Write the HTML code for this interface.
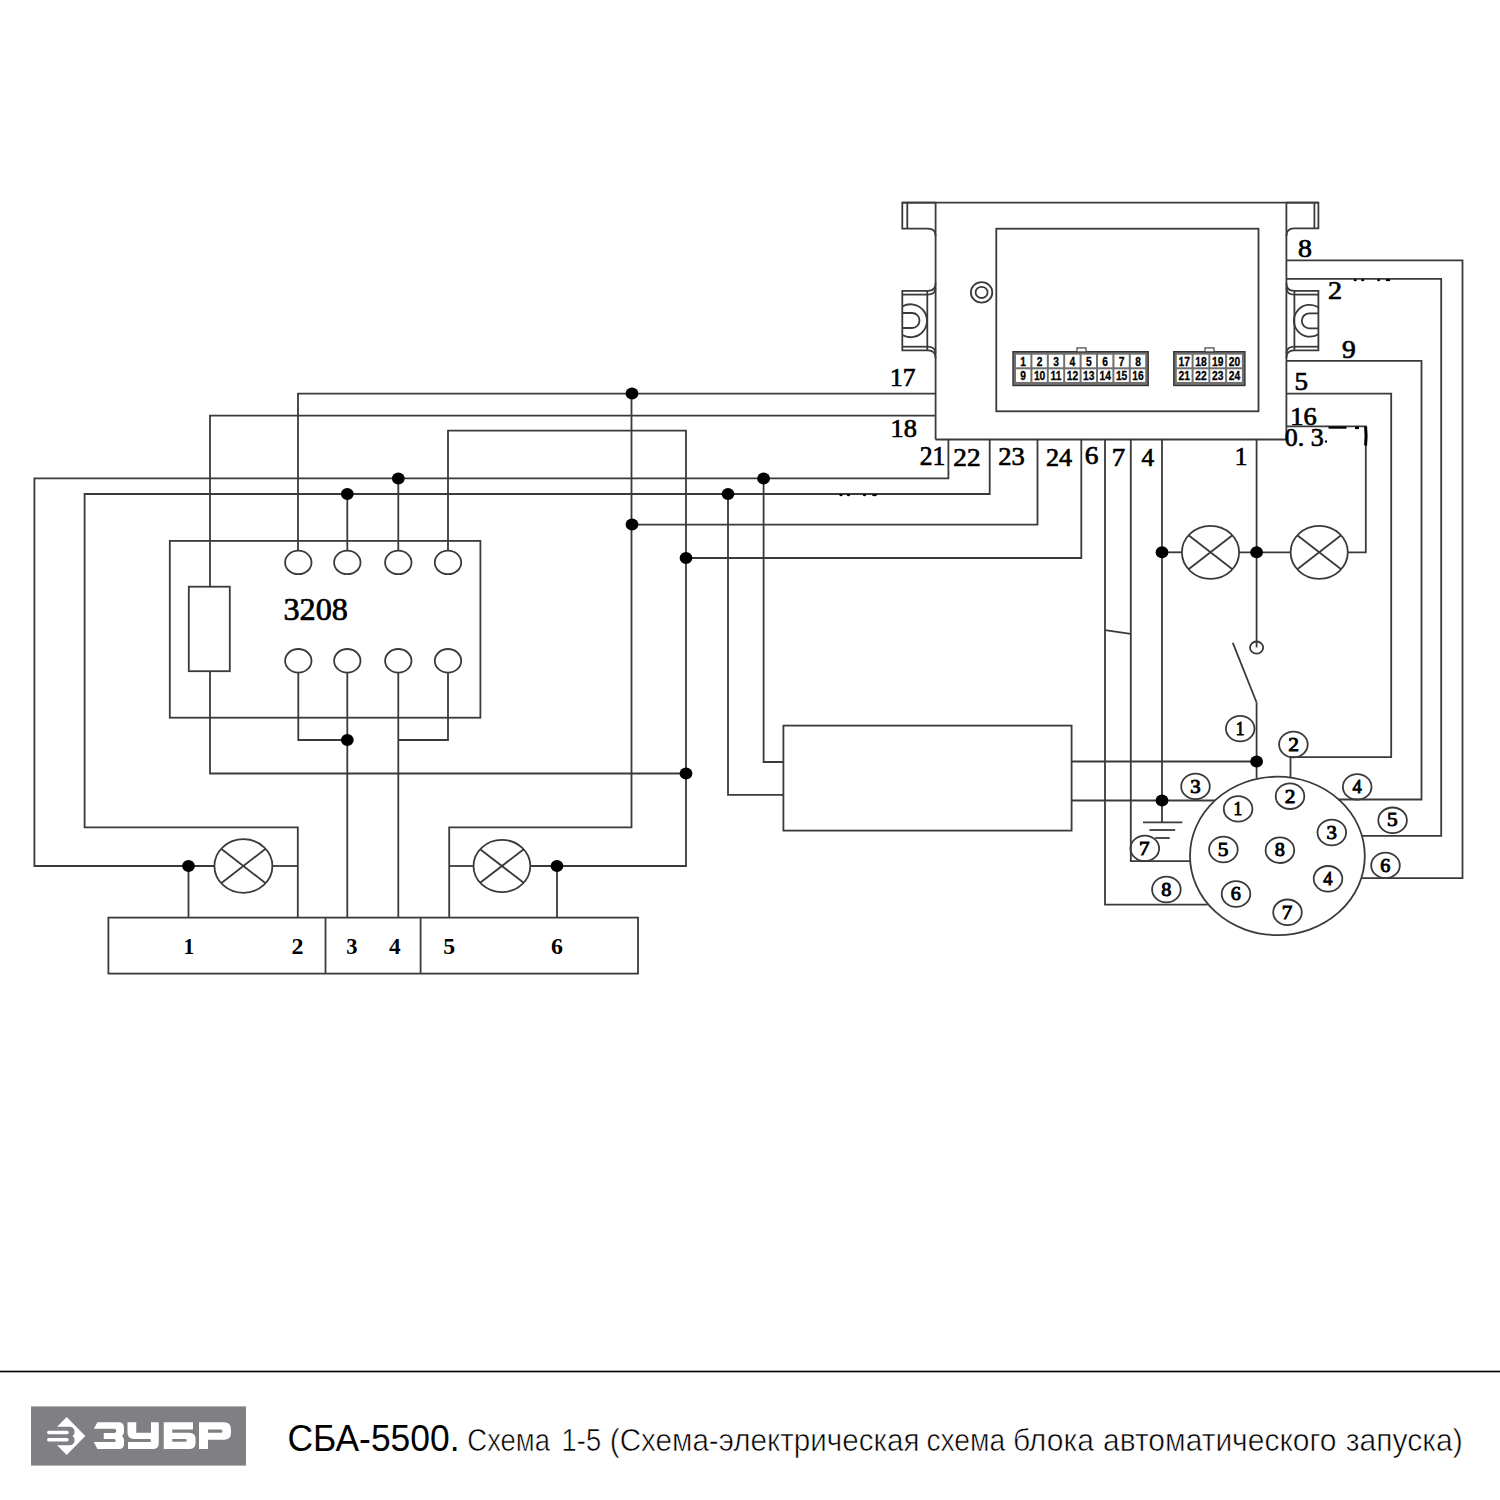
<!DOCTYPE html>
<html><head><meta charset="utf-8"><style>
html,body{margin:0;padding:0;background:#fff;}
body{width:1500px;height:1500px;overflow:hidden;position:relative;}
svg{position:absolute;left:0;top:0;}
.w line,.w polyline,.w rect,.w ellipse,.w path{fill:none;stroke:#3a3a3a;stroke-width:1.8;}
.w ellipse.d{fill:#000;stroke:none;}
text{font-family:"Liberation Serif",serif;fill:#000;}
.lb{font-size:24px;font-weight:bold;}
.big{font-size:30px;font-weight:bold;}
.sm{font-size:21px;font-weight:bold;}
.cl{font-size:21px;font-weight:bold;}
.cb{fill:#707070;stroke:#333;stroke-width:1.4;}
.ct{fill:#fff;stroke:#444;stroke-width:1.2;}
.cc{fill:#fff;stroke:none;}
.cn{font-family:"Liberation Sans",sans-serif;font-size:11px;font-weight:bold;}
.title{position:absolute;left:289px;top:1410px;font-family:"Liberation Sans",sans-serif;white-space:nowrap;color:#000;}
</style></head><body>
<svg width="1500" height="1500" viewBox="0 0 1500 1500">
<g class="w">
<line x1="902.3" y1="202.7" x2="1318.4" y2="202.7"/>
<polyline points="935.6,202.7 902.3,202.7 902.3,228.7 928,228.7"/>
<line x1="907.3" y1="202.7" x2="907.3" y2="228.7"/>
<path d="M928,228.7 Q935.6,228.7 935.6,236"/>
<polyline points="1286.4,202.7 1318.4,202.7 1318.4,228.4 1294,228.4"/>
<line x1="1314.4" y1="202.7" x2="1314.4" y2="228.4"/>
<path d="M1294,228.4 Q1286.4,228.4 1286.4,236"/>
<line x1="935.6" y1="202.7" x2="935.6" y2="439.5"/>
<line x1="1286.4" y1="202.7" x2="1286.4" y2="439.5"/>
<line x1="935.6" y1="439.5" x2="1286.4" y2="439.5"/>
<polyline points="928,290.9 902.3,290.9 902.3,350.4 928,350.4"/>
<line x1="902.3" y1="294.6" x2="927.3" y2="294.6"/>
<line x1="902.3" y1="346.7" x2="927.3" y2="346.7"/>
<line x1="927.3" y1="290.9" x2="927.3" y2="350.4"/>
<path d="M928,290.9 Q935.6,290.9 935.6,283.3"/>
<path d="M928,350.4 Q935.6,350.4 935.6,358"/>
<path d="M927.3,294.6 Q935,294.6 935.6,288.5" stroke-width="1.4"/>
<path d="M927.3,346.7 Q935,346.7 935.6,352.8" stroke-width="1.4"/>
<path d="M902.3,306.5 A16.46,16.46 0 1 1 902.3,335"/>
<path d="M902.3,313 H912 A7.5,7.5 0 0 1 912,328 H902.3"/>
<polyline points="1294,290.9 1318.4,290.9 1318.4,350.4 1294,350.4"/>
<line x1="1294.4" y1="294.6" x2="1318.4" y2="294.6"/>
<line x1="1294.4" y1="346.7" x2="1318.4" y2="346.7"/>
<line x1="1294.4" y1="290.9" x2="1294.4" y2="350.4"/>
<path d="M1294,290.9 Q1286.4,290.9 1286.4,283.3"/>
<path d="M1294,350.4 Q1286.4,350.4 1286.4,358"/>
<path d="M1294.4,294.6 Q1287,294.6 1286.4,288.5" stroke-width="1.4"/>
<path d="M1294.4,346.7 Q1287,346.7 1286.4,352.8" stroke-width="1.4"/>
<path d="M1318.4,307.3 A15.94,15.94 0 1 0 1318.4,334.2"/>
<path d="M1318.4,313.3 H1309.3 A7.5,7.5 0 0 0 1309.3,328.3 H1318.4"/>
<rect x="996.3" y="228.7" width="262.2" height="182.6"/>
<ellipse cx="981.6" cy="292.4" rx="10.7" ry="10.2"/>
<ellipse cx="981.6" cy="292.4" rx="6" ry="5.6"/>
<polyline points="298,550.6 298,393.6 935.6,393.6"/>
<polyline points="210,586.7 210,415.6 935.6,415.6"/>
<polyline points="948.4,439.5 948.4,478.4 34.4,478.4 34.4,866 214.8,866"/>
<polyline points="989.7,439.5 989.7,494 84.6,494 84.6,827.3 297.8,827.3 297.8,917.6"/>
<polyline points="1037.5,439.5 1037.5,524.6 631.5,524.6"/>
<polyline points="1081.3,439.5 1081.3,558 686,558"/>
<polyline points="1105,439.5 1105,904.7 1207.7,904.7"/>
<polyline points="1130.8,439.5 1130.8,861.1 1190,861.1"/>
<line x1="1105" y1="630.1" x2="1130.7" y2="633.8"/>
<polyline points="1162,439.5 1162,822.3"/>
<polyline points="1256.6,439.5 1256.6,647.4"/>
<polyline points="1286.4,260.4 1462.5,260.4 1462.5,878.1 1361,878.1"/>
<polyline points="1286.4,278.8 1441.2,278.8 1441.2,835.8 1362.2,835.8"/>
<polyline points="1286.4,360.8 1421.5,360.8 1421.5,799.5 1338,799.5"/>
<polyline points="1286.4,393.7 1391.2,393.7 1391.2,757.2 1290.5,757.2 1290.5,777.5"/>
<polyline points="1286.4,426.4 1365.8,426.4 1365.8,552.3 1347.8,552.3"/>
<rect x="169.8" y="540.9" width="310.6" height="176.8"/>
<rect x="188.8" y="586.7" width="41.0" height="84.5"/>
<polyline points="210,671.2 210,773.5 686,773.5"/>
<ellipse cx="298.3" cy="562.4" rx="13.2" ry="11.8"/>
<ellipse cx="298.3" cy="660.8" rx="13.2" ry="11.8"/>
<ellipse cx="347.3" cy="562.4" rx="13.2" ry="11.8"/>
<ellipse cx="347.3" cy="660.8" rx="13.2" ry="11.8"/>
<ellipse cx="398.3" cy="562.4" rx="13.2" ry="11.8"/>
<ellipse cx="398.3" cy="660.8" rx="13.2" ry="11.8"/>
<ellipse cx="448" cy="562.4" rx="13.2" ry="11.8"/>
<ellipse cx="448" cy="660.8" rx="13.2" ry="11.8"/>
<line x1="347.3" y1="494" x2="347.3" y2="550.6"/>
<line x1="398.3" y1="478.4" x2="398.3" y2="550.6"/>
<polyline points="448,550.6 448,430.7 686,430.7 686,866 530.3,866"/>
<polyline points="631.5,393.6 631.5,827.4 449.2,827.4 449.2,917.6"/>
<polyline points="298.3,672.6 298.3,740 347.3,740"/>
<line x1="347.3" y1="672.6" x2="347.3" y2="917.6"/>
<line x1="398.3" y1="672.6" x2="398.3" y2="917.6"/>
<polyline points="448,672.6 448,740 398.3,740"/>
<line x1="188.5" y1="866" x2="188.5" y2="917.6"/>
<line x1="272.4" y1="866" x2="297.8" y2="866"/>
<ellipse cx="243.4" cy="866" rx="29" ry="26.8"/>
<line x1="221.18471114954963" y1="848.7732920604008" x2="265.6152888504504" y2="883.2267079395992"/>
<line x1="221.18471114954963" y1="883.2267079395992" x2="265.6152888504504" y2="848.7732920604008"/>
<line x1="449.2" y1="866" x2="473.5" y2="866"/>
<ellipse cx="501.9" cy="866" rx="28.4" ry="26.1"/>
<line x1="480.144337815421" y1="849.2232433871814" x2="523.655662184579" y2="882.7767566128186"/>
<line x1="480.144337815421" y1="882.7767566128186" x2="523.655662184579" y2="849.2232433871814"/>
<line x1="557" y1="866" x2="557" y2="917.6"/>
<polyline points="763.6,478.4 763.6,762 783.4,762"/>
<polyline points="728,494 728,794.8 783.4,794.8"/>
<rect x="783.4" y="725.6" width="288.2" height="105.0"/>
<line x1="1071.6" y1="761.5" x2="1256.6" y2="761.5"/>
<line x1="1071.6" y1="800.5" x2="1215" y2="800.5"/>
<rect x="108.4" y="917.6" width="529.6" height="56.0"/>
<line x1="325.5" y1="917.6" x2="325.5" y2="973.6"/>
<line x1="420.6" y1="917.6" x2="420.6" y2="973.6"/>
<ellipse cx="1210.5" cy="552.3" rx="28.6" ry="26.5"/>
<line x1="1188.5911289267972" y1="535.2661283433067" x2="1232.4088710732028" y2="569.3338716566932"/>
<line x1="1188.5911289267972" y1="569.3338716566932" x2="1232.4088710732028" y2="535.2661283433067"/>
<ellipse cx="1319.2" cy="552.3" rx="28.6" ry="26.5"/>
<line x1="1297.2911289267972" y1="535.2661283433067" x2="1341.1088710732029" y2="569.3338716566932"/>
<line x1="1297.2911289267972" y1="569.3338716566932" x2="1341.1088710732029" y2="535.2661283433067"/>
<line x1="1162" y1="552.3" x2="1181.9" y2="552.3"/>
<line x1="1239.1" y1="552.3" x2="1290.6" y2="552.3"/>
<ellipse cx="1256.6" cy="647.6" rx="6.6" ry="6.1"/>
<line x1="1232.8" y1="642.8" x2="1256.6" y2="702.5"/>
<line x1="1256.6" y1="702.5" x2="1256.6" y2="778"/>
<line x1="1143" y1="822.3" x2="1182.3" y2="822.3"/>
<line x1="1149.4" y1="830" x2="1175.2" y2="830"/>
<line x1="1155.2" y1="838" x2="1169.7" y2="838"/>
<ellipse cx="1277.4" cy="855.9" rx="87.4" ry="79.2"/>
<ellipse cx="1240.2" cy="728.6" rx="14.3" ry="12.8" stroke-width="1.5"/>
<ellipse cx="1293.4" cy="744.5" rx="14.3" ry="12.8" stroke-width="1.5"/>
<ellipse cx="1195.5" cy="786.4" rx="14.3" ry="12.8" stroke-width="1.5"/>
<ellipse cx="1357.2" cy="786.9" rx="14.3" ry="12.8" stroke-width="1.5"/>
<ellipse cx="1392.6" cy="820.3" rx="14.3" ry="12.8" stroke-width="1.5"/>
<ellipse cx="1385.5" cy="865.4" rx="14.3" ry="12.8" stroke-width="1.5"/>
<ellipse cx="1144.8" cy="848.4" rx="14.3" ry="12.8" stroke-width="1.5"/>
<ellipse cx="1166.4" cy="889.5" rx="14.3" ry="12.8" stroke-width="1.5"/>
<ellipse cx="1238.1" cy="808.9" rx="14.3" ry="12.8" stroke-width="1.5"/>
<ellipse cx="1290" cy="796.2" rx="14.3" ry="12.8" stroke-width="1.5"/>
<ellipse cx="1331.8" cy="832.5" rx="14.3" ry="12.8" stroke-width="1.5"/>
<ellipse cx="1223.4" cy="849.5" rx="14.3" ry="12.8" stroke-width="1.5"/>
<ellipse cx="1279.9" cy="850.2" rx="14.3" ry="12.8" stroke-width="1.5"/>
<ellipse cx="1328" cy="878.8" rx="14.3" ry="12.8" stroke-width="1.5"/>
<ellipse cx="1236" cy="894" rx="14.3" ry="12.8" stroke-width="1.5"/>
<ellipse cx="1287.5" cy="912.3" rx="14.3" ry="12.8" stroke-width="1.5"/>
<ellipse class="d" cx="632" cy="393.6" rx="6.4" ry="6"/>
<ellipse class="d" cx="398.3" cy="478.4" rx="6.4" ry="6"/>
<ellipse class="d" cx="763.6" cy="478.4" rx="6.4" ry="6"/>
<ellipse class="d" cx="347.3" cy="494" rx="6.4" ry="6"/>
<ellipse class="d" cx="728" cy="494" rx="6.4" ry="6"/>
<ellipse class="d" cx="632" cy="524.6" rx="6.4" ry="6"/>
<ellipse class="d" cx="686" cy="558" rx="6.4" ry="6"/>
<ellipse class="d" cx="686" cy="773.5" rx="6.4" ry="6"/>
<ellipse class="d" cx="347.3" cy="740" rx="6.4" ry="6"/>
<ellipse class="d" cx="188.5" cy="866" rx="6.4" ry="6"/>
<ellipse class="d" cx="557" cy="866" rx="6.4" ry="6"/>
<ellipse class="d" cx="1162" cy="552.3" rx="6.4" ry="6"/>
<ellipse class="d" cx="1256.6" cy="552.3" rx="6.4" ry="6"/>
<ellipse class="d" cx="1256.6" cy="761.5" rx="6.4" ry="6"/>
<ellipse class="d" cx="1162" cy="800.5" rx="6.4" ry="6"/>
</g>
<rect class="cb" x="1013" y="351.7" width="135.20000000000005" height="33.80000000000001"/>
<rect class="ct" x="1077" y="347.9" width="9" height="4"/>
<rect class="cc" x="1016.0" y="354.7" width="14.4" height="12.6"/>
<text class="cn" transform="translate(1023.2,365.7) scale(0.82,1)" text-anchor="middle" style="font-family:&quot;Liberation Sans&quot;;font-size:12.5px;font-weight:bold" stroke="#000" stroke-width="0.3">1</text>
<rect class="cc" x="1032.4" y="354.7" width="14.4" height="12.6"/>
<text class="cn" transform="translate(1039.6,365.7) scale(0.82,1)" text-anchor="middle" style="font-family:&quot;Liberation Sans&quot;;font-size:12.5px;font-weight:bold" stroke="#000" stroke-width="0.3">2</text>
<rect class="cc" x="1048.8" y="354.7" width="14.4" height="12.6"/>
<text class="cn" transform="translate(1056.0,365.7) scale(0.82,1)" text-anchor="middle" style="font-family:&quot;Liberation Sans&quot;;font-size:12.5px;font-weight:bold" stroke="#000" stroke-width="0.3">3</text>
<rect class="cc" x="1065.2" y="354.7" width="14.4" height="12.6"/>
<text class="cn" transform="translate(1072.4,365.7) scale(0.82,1)" text-anchor="middle" style="font-family:&quot;Liberation Sans&quot;;font-size:12.5px;font-weight:bold" stroke="#000" stroke-width="0.3">4</text>
<rect class="cc" x="1081.6" y="354.7" width="14.4" height="12.6"/>
<text class="cn" transform="translate(1088.8,365.7) scale(0.82,1)" text-anchor="middle" style="font-family:&quot;Liberation Sans&quot;;font-size:12.5px;font-weight:bold" stroke="#000" stroke-width="0.3">5</text>
<rect class="cc" x="1098.0" y="354.7" width="14.4" height="12.6"/>
<text class="cn" transform="translate(1105.2,365.7) scale(0.82,1)" text-anchor="middle" style="font-family:&quot;Liberation Sans&quot;;font-size:12.5px;font-weight:bold" stroke="#000" stroke-width="0.3">6</text>
<rect class="cc" x="1114.4" y="354.7" width="14.4" height="12.6"/>
<text class="cn" transform="translate(1121.6,365.7) scale(0.82,1)" text-anchor="middle" style="font-family:&quot;Liberation Sans&quot;;font-size:12.5px;font-weight:bold" stroke="#000" stroke-width="0.3">7</text>
<rect class="cc" x="1130.8" y="354.7" width="14.4" height="12.6"/>
<text class="cn" transform="translate(1138.0,365.7) scale(0.82,1)" text-anchor="middle" style="font-family:&quot;Liberation Sans&quot;;font-size:12.5px;font-weight:bold" stroke="#000" stroke-width="0.3">8</text>
<rect class="cc" x="1016.0" y="369.3" width="14.4" height="12.6"/>
<text class="cn" transform="translate(1023.2,380.3) scale(0.82,1)" text-anchor="middle" style="font-family:&quot;Liberation Sans&quot;;font-size:12.5px;font-weight:bold" stroke="#000" stroke-width="0.3">9</text>
<rect class="cc" x="1032.4" y="369.3" width="14.4" height="12.6"/>
<text class="cn" transform="translate(1039.6,380.3) scale(0.82,1)" text-anchor="middle" style="font-family:&quot;Liberation Sans&quot;;font-size:12.5px;font-weight:bold" stroke="#000" stroke-width="0.3">10</text>
<rect class="cc" x="1048.8" y="369.3" width="14.4" height="12.6"/>
<text class="cn" transform="translate(1056.0,380.3) scale(0.82,1)" text-anchor="middle" style="font-family:&quot;Liberation Sans&quot;;font-size:12.5px;font-weight:bold" stroke="#000" stroke-width="0.3">11</text>
<rect class="cc" x="1065.2" y="369.3" width="14.4" height="12.6"/>
<text class="cn" transform="translate(1072.4,380.3) scale(0.82,1)" text-anchor="middle" style="font-family:&quot;Liberation Sans&quot;;font-size:12.5px;font-weight:bold" stroke="#000" stroke-width="0.3">12</text>
<rect class="cc" x="1081.6" y="369.3" width="14.4" height="12.6"/>
<text class="cn" transform="translate(1088.8,380.3) scale(0.82,1)" text-anchor="middle" style="font-family:&quot;Liberation Sans&quot;;font-size:12.5px;font-weight:bold" stroke="#000" stroke-width="0.3">13</text>
<rect class="cc" x="1098.0" y="369.3" width="14.4" height="12.6"/>
<text class="cn" transform="translate(1105.2,380.3) scale(0.82,1)" text-anchor="middle" style="font-family:&quot;Liberation Sans&quot;;font-size:12.5px;font-weight:bold" stroke="#000" stroke-width="0.3">14</text>
<rect class="cc" x="1114.4" y="369.3" width="14.4" height="12.6"/>
<text class="cn" transform="translate(1121.6,380.3) scale(0.82,1)" text-anchor="middle" style="font-family:&quot;Liberation Sans&quot;;font-size:12.5px;font-weight:bold" stroke="#000" stroke-width="0.3">15</text>
<rect class="cc" x="1130.8" y="369.3" width="14.4" height="12.6"/>
<text class="cn" transform="translate(1138.0,380.3) scale(0.82,1)" text-anchor="middle" style="font-family:&quot;Liberation Sans&quot;;font-size:12.5px;font-weight:bold" stroke="#000" stroke-width="0.3">16</text>
<rect class="cb" x="1173.8" y="351.7" width="71.10000000000014" height="33.80000000000001"/>
<rect class="ct" x="1205" y="347.9" width="9" height="4"/>
<rect class="cc" x="1176.8" y="354.7" width="14.8" height="12.6"/>
<text class="cn" transform="translate(1184.2,365.7) scale(0.82,1)" text-anchor="middle" style="font-family:&quot;Liberation Sans&quot;;font-size:12.5px;font-weight:bold" stroke="#000" stroke-width="0.3">17</text>
<rect class="cc" x="1193.6" y="354.7" width="14.8" height="12.6"/>
<text class="cn" transform="translate(1201.0,365.7) scale(0.82,1)" text-anchor="middle" style="font-family:&quot;Liberation Sans&quot;;font-size:12.5px;font-weight:bold" stroke="#000" stroke-width="0.3">18</text>
<rect class="cc" x="1210.3" y="354.7" width="14.8" height="12.6"/>
<text class="cn" transform="translate(1217.7,365.7) scale(0.82,1)" text-anchor="middle" style="font-family:&quot;Liberation Sans&quot;;font-size:12.5px;font-weight:bold" stroke="#000" stroke-width="0.3">19</text>
<rect class="cc" x="1227.1" y="354.7" width="14.8" height="12.6"/>
<text class="cn" transform="translate(1234.5,365.7) scale(0.82,1)" text-anchor="middle" style="font-family:&quot;Liberation Sans&quot;;font-size:12.5px;font-weight:bold" stroke="#000" stroke-width="0.3">20</text>
<rect class="cc" x="1176.8" y="369.3" width="14.8" height="12.6"/>
<text class="cn" transform="translate(1184.2,380.3) scale(0.82,1)" text-anchor="middle" style="font-family:&quot;Liberation Sans&quot;;font-size:12.5px;font-weight:bold" stroke="#000" stroke-width="0.3">21</text>
<rect class="cc" x="1193.6" y="369.3" width="14.8" height="12.6"/>
<text class="cn" transform="translate(1201.0,380.3) scale(0.82,1)" text-anchor="middle" style="font-family:&quot;Liberation Sans&quot;;font-size:12.5px;font-weight:bold" stroke="#000" stroke-width="0.3">22</text>
<rect class="cc" x="1210.3" y="369.3" width="14.8" height="12.6"/>
<text class="cn" transform="translate(1217.7,380.3) scale(0.82,1)" text-anchor="middle" style="font-family:&quot;Liberation Sans&quot;;font-size:12.5px;font-weight:bold" stroke="#000" stroke-width="0.3">23</text>
<rect class="cc" x="1227.1" y="369.3" width="14.8" height="12.6"/>
<text class="cn" transform="translate(1234.5,380.3) scale(0.82,1)" text-anchor="middle" style="font-family:&quot;Liberation Sans&quot;;font-size:12.5px;font-weight:bold" stroke="#000" stroke-width="0.3">24</text>
<ellipse cx="1355.2" cy="280.2" rx="1.6" ry="1.1" fill="#000"/>
<ellipse cx="1362.7" cy="280.2" rx="1.6" ry="1.1" fill="#000"/>
<ellipse cx="1378.6" cy="280.2" rx="1.5" ry="1.1" fill="#000"/>
<ellipse cx="1388" cy="280.2" rx="2.4" ry="1.1" fill="#000"/>
<ellipse cx="841" cy="495.2" rx="1.6" ry="1.1" fill="#000"/>
<ellipse cx="848.5" cy="495.2" rx="1.6" ry="1.1" fill="#000"/>
<ellipse cx="864.5" cy="495.2" rx="1.6" ry="1.1" fill="#000"/>
<ellipse cx="874.5" cy="495.2" rx="2.4" ry="1.1" fill="#000"/>
<path d="M1328.5,427.6 H1346.5" stroke="#000" stroke-width="2.2" fill="none"/>
<path d="M1355,427.8 H1359" stroke="#000" stroke-width="2.6" fill="none"/>
<path d="M1365.6,426.5 Q1366.6,436 1365.6,445.5" stroke="#000" stroke-width="3" fill="none"/>
<ellipse cx="1326" cy="441.5" rx="1.1" ry="1.2" fill="#000"/>
<text transform="translate(1235.63,734.95) scale(0.901,1)" style="font-family:'Liberation Serif';font-size:19.24px;font-weight:normal" stroke="#000" stroke-width="0.9">1</text>
<text transform="translate(1288.16,750.85) scale(1.118,1)" style="font-family:'Liberation Serif';font-size:19.18px;font-weight:normal" stroke="#000" stroke-width="0.9">2</text>
<text transform="translate(1190.20,792.57) scale(1.101,1)" style="font-family:'Liberation Serif';font-size:18.90px;font-weight:normal" stroke="#000" stroke-width="0.9">3</text>
<text transform="translate(1352.54,793.25) scale(0.959,1)" style="font-family:'Liberation Serif';font-size:19.29px;font-weight:normal" stroke="#000" stroke-width="0.9">4</text>
<text transform="translate(1387.06,826.46) scale(1.117,1)" style="font-family:'Liberation Serif';font-size:19.11px;font-weight:normal" stroke="#000" stroke-width="0.9">5</text>
<text transform="translate(1380.34,871.57) scale(1.065,1)" style="font-family:'Liberation Serif';font-size:18.90px;font-weight:normal" stroke="#000" stroke-width="0.9">6</text>
<text transform="translate(1139.10,854.75) scale(1.094,1)" style="font-family:'Liberation Serif';font-size:19.40px;font-weight:normal" stroke="#000" stroke-width="0.9">7</text>
<text transform="translate(1161.33,895.67) scale(1.078,1)" style="font-family:'Liberation Serif';font-size:18.82px;font-weight:normal" stroke="#000" stroke-width="0.9">8</text>
<text transform="translate(1233.53,815.25) scale(0.901,1)" style="font-family:'Liberation Serif';font-size:19.24px;font-weight:normal" stroke="#000" stroke-width="0.9">1</text>
<text transform="translate(1284.76,802.55) scale(1.118,1)" style="font-family:'Liberation Serif';font-size:19.18px;font-weight:normal" stroke="#000" stroke-width="0.9">2</text>
<text transform="translate(1326.50,838.67) scale(1.101,1)" style="font-family:'Liberation Serif';font-size:18.90px;font-weight:normal" stroke="#000" stroke-width="0.9">3</text>
<text transform="translate(1217.86,855.66) scale(1.117,1)" style="font-family:'Liberation Serif';font-size:19.11px;font-weight:normal" stroke="#000" stroke-width="0.9">5</text>
<text transform="translate(1274.83,856.37) scale(1.078,1)" style="font-family:'Liberation Serif';font-size:18.82px;font-weight:normal" stroke="#000" stroke-width="0.9">8</text>
<text transform="translate(1323.34,885.15) scale(0.959,1)" style="font-family:'Liberation Serif';font-size:19.29px;font-weight:normal" stroke="#000" stroke-width="0.9">4</text>
<text transform="translate(1230.84,900.17) scale(1.065,1)" style="font-family:'Liberation Serif';font-size:18.90px;font-weight:normal" stroke="#000" stroke-width="0.9">6</text>
<text transform="translate(1281.80,918.65) scale(1.094,1)" style="font-family:'Liberation Serif';font-size:19.40px;font-weight:normal" stroke="#000" stroke-width="0.9">7</text>
<text transform="translate(889.91,386.05) scale(0.978,1)" style="font-family:'Liberation Serif';font-size:26.05px;font-weight:normal" stroke="#000" stroke-width="0.7">17</text>
<text transform="translate(890.43,437.41) scale(1.055,1)" style="font-family:'Liberation Serif';font-size:25.04px;font-weight:normal" stroke="#000" stroke-width="0.7">18</text>
<text transform="translate(919.83,465.45) scale(0.967,1)" style="font-family:'Liberation Serif';font-size:26.43px;font-weight:normal" stroke="#000" stroke-width="0.7">21</text>
<text transform="translate(953.35,465.85) scale(1.078,1)" style="font-family:'Liberation Serif';font-size:25.22px;font-weight:normal" stroke="#000" stroke-width="0.7">22</text>
<text transform="translate(998.19,464.60) scale(1.054,1)" style="font-family:'Liberation Serif';font-size:25.15px;font-weight:normal" stroke="#000" stroke-width="0.7">23</text>
<text transform="translate(1046.01,466.05) scale(1.021,1)" style="font-family:'Liberation Serif';font-size:25.52px;font-weight:normal" stroke="#000" stroke-width="0.7">24</text>
<text transform="translate(1084.77,464.21) scale(1.115,1)" style="font-family:'Liberation Serif';font-size:24.56px;font-weight:normal" stroke="#000" stroke-width="0.7">6</text>
<text transform="translate(1111.78,465.65) scale(1.094,1)" style="font-family:'Liberation Serif';font-size:24.59px;font-weight:normal" stroke="#000" stroke-width="0.7">7</text>
<text transform="translate(1141.46,466.45) scale(1.004,1)" style="font-family:'Liberation Serif';font-size:25.07px;font-weight:normal" stroke="#000" stroke-width="0.7">4</text>
<text transform="translate(1234.63,464.55) scale(0.988,1)" style="font-family:'Liberation Serif';font-size:25.60px;font-weight:normal" stroke="#000" stroke-width="0.7">1</text>
<text transform="translate(1297.89,256.81) scale(1.132,1)" style="font-family:'Liberation Serif';font-size:24.60px;font-weight:normal" stroke="#000" stroke-width="0.7">8</text>
<text transform="translate(1328.11,299.15) scale(1.124,1)" style="font-family:'Liberation Serif';font-size:25.07px;font-weight:normal" stroke="#000" stroke-width="0.7">2</text>
<text transform="translate(1342.07,357.60) scale(1.090,1)" style="font-family:'Liberation Serif';font-size:25.15px;font-weight:normal" stroke="#000" stroke-width="0.7">9</text>
<text transform="translate(1294.58,390.01) scale(1.117,1)" style="font-family:'Liberation Serif';font-size:24.23px;font-weight:normal" stroke="#000" stroke-width="0.7">5</text>
<text transform="translate(1290.23,424.80) scale(1.050,1)" style="font-family:'Liberation Serif';font-size:25.15px;font-weight:normal" stroke="#000" stroke-width="0.7">16</text>
<text transform="translate(1284.76,445.90) scale(1.042,1)" style="font-family:'Liberation Serif';font-size:24.88px;font-weight:normal" stroke="#000" stroke-width="0.7">0. 3</text>
<text transform="translate(283.41,619.95) scale(1.046,1)" style="font-family:'Liberation Serif';font-size:30.82px;font-weight:normal" stroke="#000" stroke-width="0.7">3208</text>
<text transform="translate(183.58,954.20) scale(0.951,1)" style="font-family:'Liberation Serif';font-size:22.57px;font-weight:bold">1</text>
<text transform="translate(291.49,954.20) scale(1.071,1)" style="font-family:'Liberation Serif';font-size:22.50px;font-weight:bold">2</text>
<text transform="translate(346.16,953.98) scale(1.011,1)" style="font-family:'Liberation Serif';font-size:22.18px;font-weight:bold">3</text>
<text transform="translate(389.08,954.20) scale(1.029,1)" style="font-family:'Liberation Serif';font-size:22.64px;font-weight:bold">4</text>
<text transform="translate(443.14,953.98) scale(1.064,1)" style="font-family:'Liberation Serif';font-size:22.42px;font-weight:bold">5</text>
<text transform="translate(550.99,953.98) scale(1.074,1)" style="font-family:'Liberation Serif';font-size:22.18px;font-weight:bold">6</text>
<rect x="0" y="1370.7" width="1500" height="1.6" fill="#000"/>

<rect x="31" y="1406.4" width="215" height="59.2" fill="#807f84"/>
<g fill="#fff">
<polygon points="66.7,1417 85.3,1436 66.7,1455 48,1436"/>
</g>
<path fill="#807f84" d="M40,1426.7 H69.5 A4.8,4.65 0 0 1 74.5,1431.35 A4.8,4.65 0 0 1 72.5,1436 A4.8,4.65 0 0 1 74.5,1440.65 A4.8,4.65 0 0 1 69.5,1445.3 H40 Z"/>
<g fill="#fff">
<rect x="47" y="1430.8" width="21.7" height="3.5" rx="1.7"/>
<rect x="47" y="1438" width="21.7" height="3.5" rx="1.7"/>
<path d="M97.5,1422.25 H119 Q124,1422.25 124,1428 V1432 Q124,1434.5 122,1436 Q124,1437.5 124,1440 V1444 Q124,1449 119,1449 H97.5 L93.75,1442 H114.2 A1.5,1.5 0 0 0 114.2,1439 H103.75 V1433 H114.2 A2.1,2.1 0 0 0 114.2,1428.75 H93.75 Z"/>
<path d="M127.5,1422.25 H136.25 V1432.75 H151 V1422.25 H158.75 V1443 Q158.75,1449 152.75,1449 H128 V1442 H149.5 A1.5,1.5 0 0 0 149.5,1439 H134 Q127.5,1439 127.5,1432.5 Z"/>
<path d="M163.75,1422.25 H193 V1429.5 H172.25 V1432.75 H189 Q195.5,1432.75 195.5,1439 V1443 Q195.5,1449 189,1449 H163.75 Z M172.25,1439 V1441.75 H185.6 A1.4,1.4 0 0 0 185.6,1439 Z" fill-rule="evenodd"/>
<path d="M199,1422.25 H224 Q231,1422.25 231,1429.5 V1432.75 Q231,1439.75 224,1439.75 H208 V1449 H199 Z M208,1429.5 V1432.75 H220.9 A1.6,1.6 0 0 0 220.9,1429.5 Z" fill-rule="evenodd"/>
</g>

<text transform="translate(287.40,1450.6) scale(0.9793,1)" style="font-family:&quot;Liberation Sans&quot;;font-size:36.2px;font-weight:normal">СБА-5500.</text>
<text transform="translate(467.31,1450.9) scale(0.8556,1)" style="font-family:&quot;Liberation Sans&quot;;font-size:32.1px;font-weight:normal" stroke="#fff" stroke-width="0.6">Схема</text>
<text transform="translate(561.62,1450.9) scale(0.8521,1)" style="font-family:&quot;Liberation Sans&quot;;font-size:32.1px;font-weight:normal" stroke="#fff" stroke-width="0.6">1-5</text>
<text transform="translate(609.86,1450.9) scale(0.9226,1)" style="font-family:&quot;Liberation Sans&quot;;font-size:32.1px;font-weight:normal" stroke="#fff" stroke-width="0.6">(Схема-электрическая</text>
<text transform="translate(926.40,1450.9) scale(0.8813,1)" style="font-family:&quot;Liberation Sans&quot;;font-size:32.1px;font-weight:normal" stroke="#fff" stroke-width="0.6">схема</text>
<text transform="translate(1012.94,1450.9) scale(0.9367,1)" style="font-family:&quot;Liberation Sans&quot;;font-size:32.1px;font-weight:normal" stroke="#fff" stroke-width="0.6">блока</text>
<text transform="translate(1103.03,1450.9) scale(0.9343,1)" style="font-family:&quot;Liberation Sans&quot;;font-size:32.1px;font-weight:normal" stroke="#fff" stroke-width="0.6">автоматического</text>
<text transform="translate(1345.78,1450.9) scale(0.9370,1)" style="font-family:&quot;Liberation Sans&quot;;font-size:32.1px;font-weight:normal" stroke="#fff" stroke-width="0.6">запуска)</text>
</svg>
</body></html>
